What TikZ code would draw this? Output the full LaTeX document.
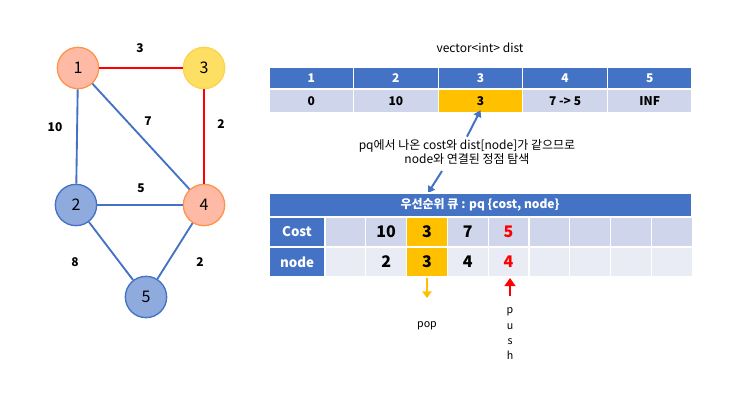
\documentclass[tikz,border=0pt]{standalone}
\usepackage{fontspec}
\setmainfont{Noto Sans CJK KR}
\usetikzlibrary{arrows.meta}
\definecolor{hblue}{HTML}{4472C4}
\definecolor{cellA}{HTML}{CFD5EA}
\definecolor{cellB}{HTML}{E9EBF5}
\definecolor{gold}{HTML}{FFC000}
\tikzset{
	vnode/.style   = {circle, minimum size=31pt, inner sep=0pt, line width=1pt, font=\large},
	orangev/.style = {vnode, draw=orange!80!red!70, fill=orange!45!red!35},
	yellowv/.style = {vnode, draw=gold!70, fill=yellow!30!gold!60},
	bluev/.style   = {vnode, draw=hblue, fill=hblue!60},
	redge/.style   = {draw=red, line width=1.4pt},
	bedge/.style   = {draw=hblue, line width=1.4pt},
	wlabel/.style  = {font=\bfseries\small},
	cell/.style    = {draw=white, line width=1pt, font=\bfseries\small},
	vlet/.style    = {font=\footnotesize, inner sep=0pt}
}
\begin{document}
\begin{tikzpicture}[x=0.75pt, y=-0.75pt]
\useasboundingbox (0,0) rectangle (743,418);
% graph
\node [orangev] (v1) at (78,68) {1};
\node [yellowv] (v3) at (204,68) {3};
\node [bluev]   (v2) at (76,205) {2};
\node [orangev] (v4) at (204,205) {4};
\node [bluev]   (v5) at (146,297) {5};
\begin{scope}[on background layer/.try]
\end{scope}
\draw [redge] (v1) -- (v3);
\draw [redge] (v3) -- (v4);
\draw [bedge] (v1) -- (v2);
\draw [bedge] (v1) -- (v4);
\draw [bedge] (v2) -- (v4);
\draw [bedge] (v2) -- (v5);
\draw [bedge] (v4) -- (v5);
\node [wlabel] (w13) at (140,48) {3};
\node [wlabel] (w12) at (55,127) {10};
\node [wlabel] (w14) at (148,121) {7};
\node [wlabel] (w34) at (221,124) {2};
\node [wlabel] (w24) at (141,188) {5};
\node [wlabel] (w25) at (75,262) {8};
\node [wlabel] (w45) at (200,262) {2};
% dist table
\node (title) at (480,48) {\small vector<int> dist};
\foreach \i/\v in {1/0,2/10,3/3,4/{7 -> 5},5/INF} {
	\pgfmathsetmacro{\xl}{269+(\i-1)*84.6}
	\pgfmathsetmacro{\xr}{269+\i*84.6}
	\draw [cell, fill=hblue] (\xl,67) rectangle (\xr,89);
	\node [text=white, font=\bfseries\small] (h\i) at ({(\xl+\xr)/2},78) {\i};
	\ifnum\i=3
		\draw [cell, fill=gold] (\xl,89) rectangle (\xr,113);
	\else
		\draw [cell, fill=cellA] (\xl,89) rectangle (\xr,113);
	\fi
	\node [font=\bfseries\small] (d\i) at ({(\xl+\xr)/2},101) {\v};
}
\node [align=center, font=\small, inner sep=1pt] (note) at (467,152) {pq에서 나온 cost와 dist[node]가 같으므로\\node와 연결된 정점 탐색};
\coordinate (qtop) at (428,193);
\draw [hblue, line width=1.5pt, -{Triangle[length=5pt,width=6pt]}] (note.north) ++(0,-1) -- (d3.south);
\draw [hblue, line width=1.5pt, -{Triangle[length=5pt,width=6pt]}] (442,171) -- (qtop);
% priority queue
\draw [cell, fill=hblue] (269,193) rectangle (692,217);
\node [text=white, font=\bfseries\small] (qhead) at (480,205) {우선순위 큐 : pq \{cost, node\}};
\draw [cell, fill=hblue] (269,217) rectangle (325,247);
\draw [cell, fill=hblue] (269,247) rectangle (325,277);
\node [text=white, font=\bfseries] (lcost) at (297,232) {Cost};
\node [text=white, font=\bfseries] (lnode) at (297,262) {node};
\foreach \j in {0,...,8} {
	\pgfmathsetmacro{\xl}{325+\j*40.8}
	\pgfmathsetmacro{\xr}{325+(\j+1)*40.8}
	\ifnum\j=2
		\draw [cell, fill=gold] (\xl,217) rectangle (\xr,247);
		\draw [cell, fill=gold] (\xl,247) rectangle (\xr,277);
	\else
		\draw [cell, fill=cellA] (\xl,217) rectangle (\xr,247);
		\draw [cell, fill=cellB] (\xl,247) rectangle (\xr,277);
	\fi
}
\node [font=\bfseries\large] (c1) at (386.2,232) {10};
\node [font=\bfseries\large] (c2) at (427,232) {3};
\node [font=\bfseries\large] (c3) at (467.8,232) {7};
\node [font=\bfseries\large, text=red] (c4) at (508.6,232) {5};
\node [font=\bfseries\large] (n1) at (386.2,262) {2};
\node [font=\bfseries\large] (n2) at (427,262) {3};
\node [font=\bfseries\large] (n3) at (467.8,262) {4};
\node [font=\bfseries\large, text=red] (n4) at (508.6,262) {4};
% pop / push
\node [vlet] (pop) at (427,326) {p\\[2pt]o\\[2pt]p};
\node [vlet, align=center] (push) at (510,334) {p\\[2pt]u\\[2pt]s\\[2pt]h};
\coordinate (popend) at (427,298);
\coordinate (pushstart) at (510,296);
\draw [gold, line width=1.5pt, -{Triangle[length=5pt,width=7pt]}] (427,278) -- (popend);
\draw [red, line width=2pt, -{Triangle[length=6pt,width=8pt]}] (pushstart) -- (510,278);
\end{tikzpicture}
\end{document}
